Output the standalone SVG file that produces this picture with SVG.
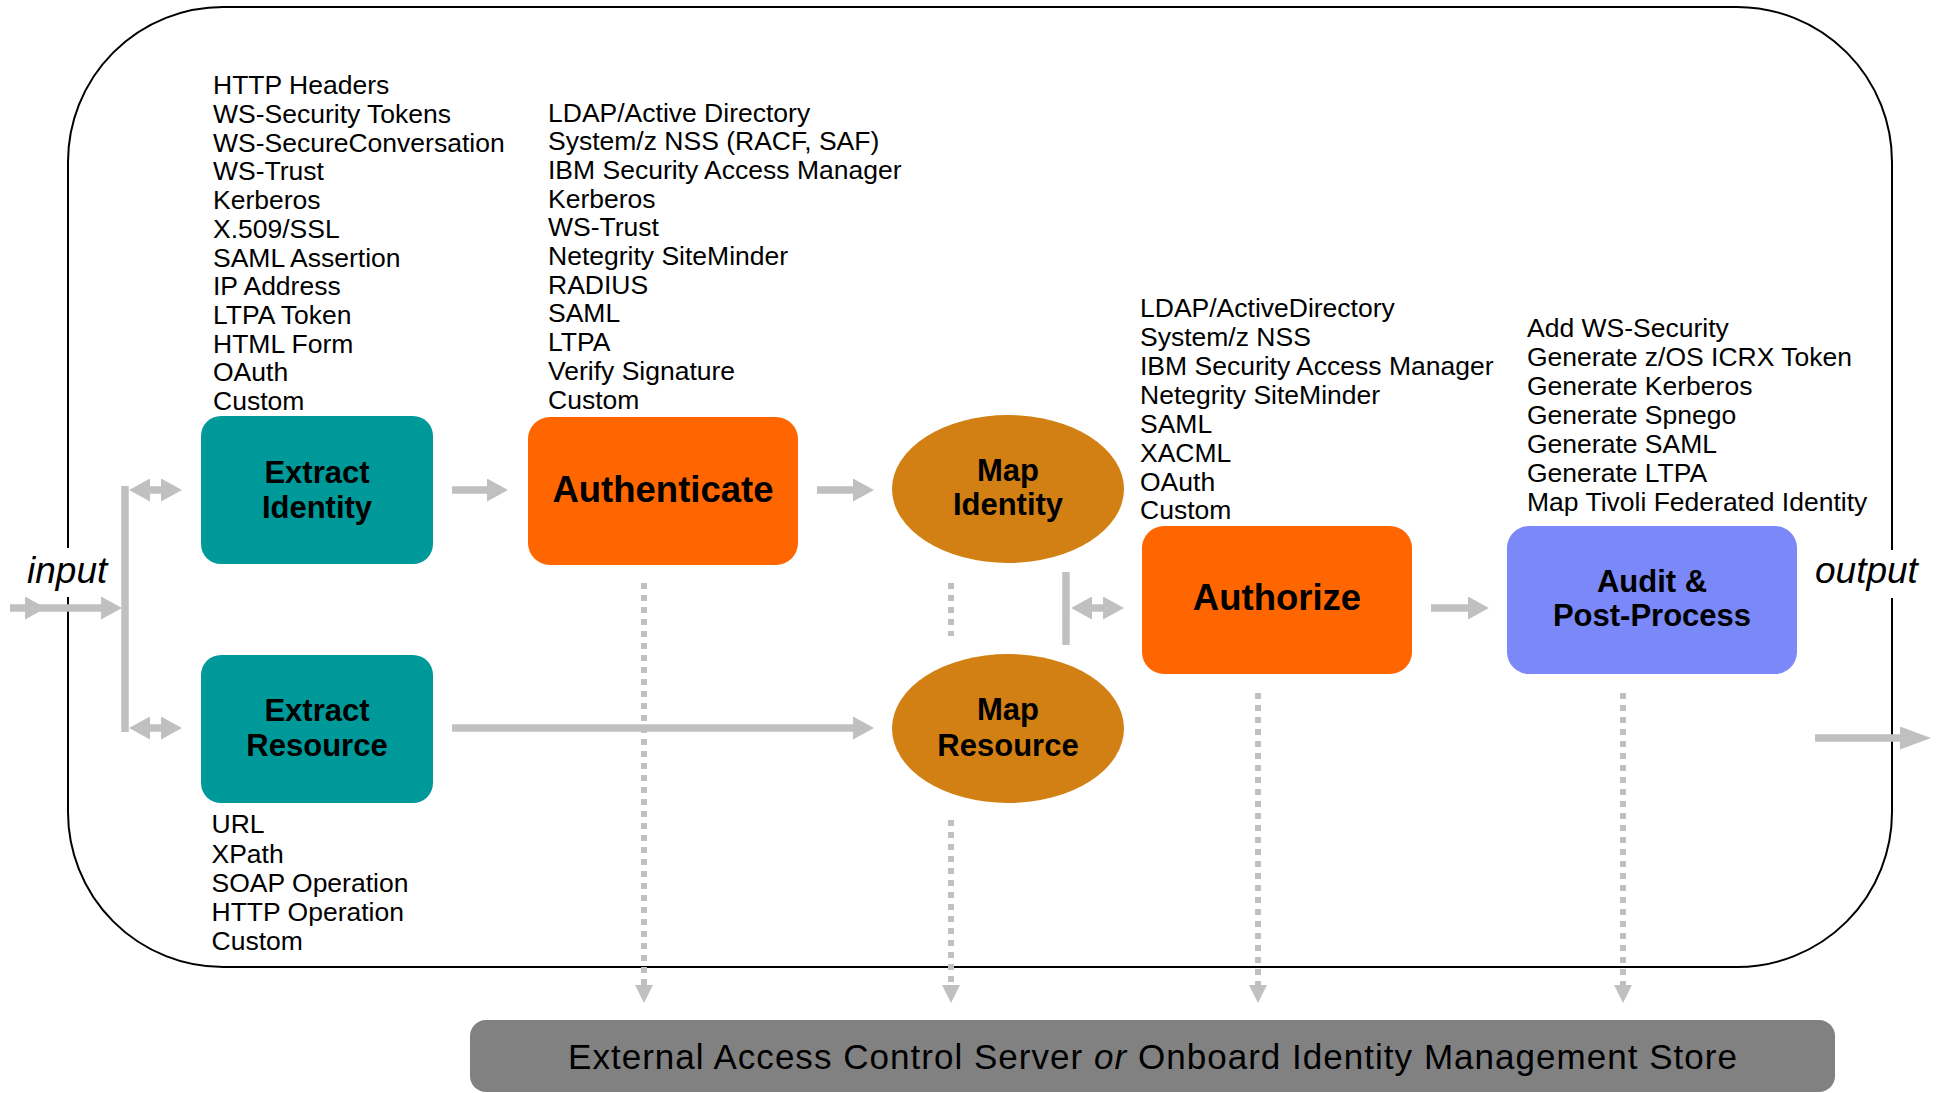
<svg xmlns="http://www.w3.org/2000/svg" width="1939" height="1093" viewBox="0 0 1939 1093">
<style>
.list{font-family:'Liberation Sans',Arial,Helvetica,sans-serif;font-size:26.5px;fill:#000}
.lbl{font-family:'Liberation Sans',Arial,Helvetica,sans-serif;font-weight:bold;font-size:31px;fill:#000;text-anchor:middle}
.big{font-size:36.5px}
.io{font-family:'Liberation Sans',Arial,Helvetica,sans-serif;font-style:italic;font-size:37px;fill:#000}
.store{font-family:'Liberation Sans',Arial,Helvetica,sans-serif;font-size:35px;fill:#000}
.conn{stroke:#c0c0c0;stroke-width:7.5;fill:none}
.bar{stroke:#c0c0c0;stroke-width:7.5;fill:none}
.dot{stroke:#c0c0c0;stroke-width:6;stroke-dasharray:6 6;fill:none}
.teal{fill:#009999}
.orange{fill:#FF6600}
.gold{fill:#D28014}
.blue{fill:#7A89F7}
</style>
<defs>
<marker id="ah" markerUnits="userSpaceOnUse" viewBox="0 0 21 23" markerWidth="21" markerHeight="23" refX="0" refY="11.5" orient="auto-start-reverse"><path d="M0,0 L21,11.5 L0,23 z" fill="#c0c0c0"/></marker>
<marker id="ahl" markerUnits="userSpaceOnUse" viewBox="0 0 31 23" markerWidth="31" markerHeight="23" refX="0" refY="11.5" orient="auto"><path d="M0,0 L31,11.5 L0,23 z" fill="#c0c0c0"/></marker>
<marker id="dh" markerUnits="userSpaceOnUse" viewBox="0 0 18 18" markerWidth="18" markerHeight="18" refX="0" refY="9" orient="auto"><path d="M0,0 L18,9 L0,18 z" fill="#c0c0c0"/></marker>
</defs>

<g id="frame">
<path d="M68,597 V812 A155,155 0 0 0 223,967 H1737 A155,155 0 0 0 1892,812 V598 M1892,550 V162 A155,155 0 0 0 1737,7 H223 A155,155 0 0 0 68,162 V548" fill="none" stroke="#000" stroke-width="2"/>
</g>

<g id="connectors">
<path class="conn" d="M10,608 H25" marker-end="url(#ah)"/>
<path class="conn" d="M25,608 H101" marker-end="url(#ah)"/>
<path class="bar" d="M125,486 V732"/>
<path class="conn" d="M150,490 H161" marker-start="url(#ah)" marker-end="url(#ah)"/>
<path class="conn" d="M150,728 H161" marker-start="url(#ah)" marker-end="url(#ah)"/>
<path class="conn" d="M452,490 H487" marker-end="url(#ah)"/>
<path class="conn" d="M817,490 H853" marker-end="url(#ah)"/>
<path class="conn" d="M452,728 H853" marker-end="url(#ah)"/>
<path class="bar" d="M1066,572 V645"/>
<path class="conn" d="M1092,608 H1103" marker-start="url(#ah)" marker-end="url(#ah)"/>
<path class="conn" d="M1431,608 H1468" marker-end="url(#ah)"/>
<path class="conn" d="M1815,738 H1900" marker-end="url(#ahl)"/>
<path class="dot" d="M644,583 V985" marker-end="url(#dh)"/>
<path class="dot" d="M951,583 V636"/>
<path class="dot" d="M951,820 V985" marker-end="url(#dh)"/>
<path class="dot" d="M1258,693 V985" marker-end="url(#dh)"/>
<path class="dot" d="M1623,693 V985" marker-end="url(#dh)"/>
</g>

<g id="input-label"><text class="io" x="27" y="583">input</text></g>
<g id="output-label"><text class="io" x="1815" y="583">output</text></g>

<g id="extract-identity">
<rect class="teal" x="201" y="416" width="232" height="148" rx="20"/>
<text class="lbl" x="317" y="483">Extract</text>
<text class="lbl" x="317" y="517.5">Identity</text>
</g>

<g id="extract-resource">
<rect class="teal" x="201" y="655" width="232" height="148" rx="20"/>
<text class="lbl" x="317" y="720.5">Extract</text>
<text class="lbl" x="317" y="756">Resource</text>
</g>

<g id="authenticate">
<rect class="orange" x="528" y="417" width="270" height="148" rx="22"/>
<text class="lbl big" x="663" y="502">Authenticate</text>
</g>

<g id="map-identity">
<ellipse class="gold" cx="1008" cy="489" rx="116" ry="74"/>
<text class="lbl" x="1008" y="481">Map</text>
<text class="lbl" x="1008" y="515">Identity</text>
</g>

<g id="map-resource">
<ellipse class="gold" cx="1008" cy="728.5" rx="116" ry="74.5"/>
<text class="lbl" x="1008" y="720">Map</text>
<text class="lbl" x="1008" y="756">Resource</text>
</g>

<g id="authorize">
<rect class="orange" x="1142" y="526" width="270" height="148" rx="22"/>
<text class="lbl big" x="1277" y="610">Authorize</text>
</g>

<g id="audit">
<rect class="blue" x="1507" y="526" width="290" height="148" rx="22"/>
<text class="lbl" x="1652" y="592">Audit &amp;</text>
<text class="lbl" x="1652" y="626">Post-Process</text>
</g>

<g id="identity-sources">
<text class="list">
<tspan x="213" y="94.3">HTTP Headers</tspan>
<tspan x="213" y="123">WS-Security Tokens</tspan>
<tspan x="213" y="151.7">WS-SecureConversation</tspan>
<tspan x="213" y="180.4">WS-Trust</tspan>
<tspan x="213" y="209.1">Kerberos</tspan>
<tspan x="213" y="237.8">X.509/SSL</tspan>
<tspan x="213" y="266.5">SAML Assertion</tspan>
<tspan x="213" y="295.2">IP Address</tspan>
<tspan x="213" y="323.9">LTPA Token</tspan>
<tspan x="213" y="352.6">HTML Form</tspan>
<tspan x="213" y="381.3">OAuth</tspan>
<tspan x="213" y="410">Custom</tspan>
</text>
</g>

<g id="authn-sources">
<text class="list">
<tspan x="548" y="121.5">LDAP/Active Directory</tspan>
<tspan x="548" y="150.2">System/z NSS (RACF, SAF)</tspan>
<tspan x="548" y="178.9">IBM Security Access Manager</tspan>
<tspan x="548" y="207.6">Kerberos</tspan>
<tspan x="548" y="236.3">WS-Trust</tspan>
<tspan x="548" y="265">Netegrity SiteMinder</tspan>
<tspan x="548" y="293.7">RADIUS</tspan>
<tspan x="548" y="322.4">SAML</tspan>
<tspan x="548" y="351.1">LTPA</tspan>
<tspan x="548" y="379.8">Verify Signature</tspan>
<tspan x="548" y="408.5">Custom</tspan>
</text>
</g>

<g id="authz-sources">
<text class="list">
<tspan x="1140" y="317.3">LDAP/ActiveDirectory</tspan>
<tspan x="1140" y="346.2">System/z NSS</tspan>
<tspan x="1140" y="375">IBM Security Access Manager</tspan>
<tspan x="1140" y="403.9">Netegrity SiteMinder</tspan>
<tspan x="1140" y="432.7">SAML</tspan>
<tspan x="1140" y="461.6">XACML</tspan>
<tspan x="1140" y="490.5">OAuth</tspan>
<tspan x="1140" y="519.3">Custom</tspan>
</text>
</g>

<g id="post-process-options">
<text class="list">
<tspan x="1527" y="337.3">Add WS-Security</tspan>
<tspan x="1527" y="366.2">Generate z/OS ICRX Token</tspan>
<tspan x="1527" y="395.1">Generate Kerberos</tspan>
<tspan x="1527" y="424">Generate Spnego</tspan>
<tspan x="1527" y="452.9">Generate SAML</tspan>
<tspan x="1527" y="481.8">Generate LTPA</tspan>
<tspan x="1527" y="510.7">Map Tivoli Federated Identity</tspan>
</text>
</g>

<g id="resource-sources">
<text class="list">
<tspan x="211.5" y="833.3">URL</tspan>
<tspan x="211.5" y="862.5">XPath</tspan>
<tspan x="211.5" y="891.7">SOAP Operation</tspan>
<tspan x="211.5" y="920.9">HTTP Operation</tspan>
<tspan x="211.5" y="950">Custom</tspan>
</text>
</g>

<g id="store">
<rect x="470" y="1020" width="1365" height="72" rx="16" fill="#818181"/>
<text class="store" x="568" y="1069" textLength="1169" lengthAdjust="spacing">External Access Control Server <tspan font-style="italic">or</tspan> Onboard Identity Management Store</text>
</g>
</svg>
